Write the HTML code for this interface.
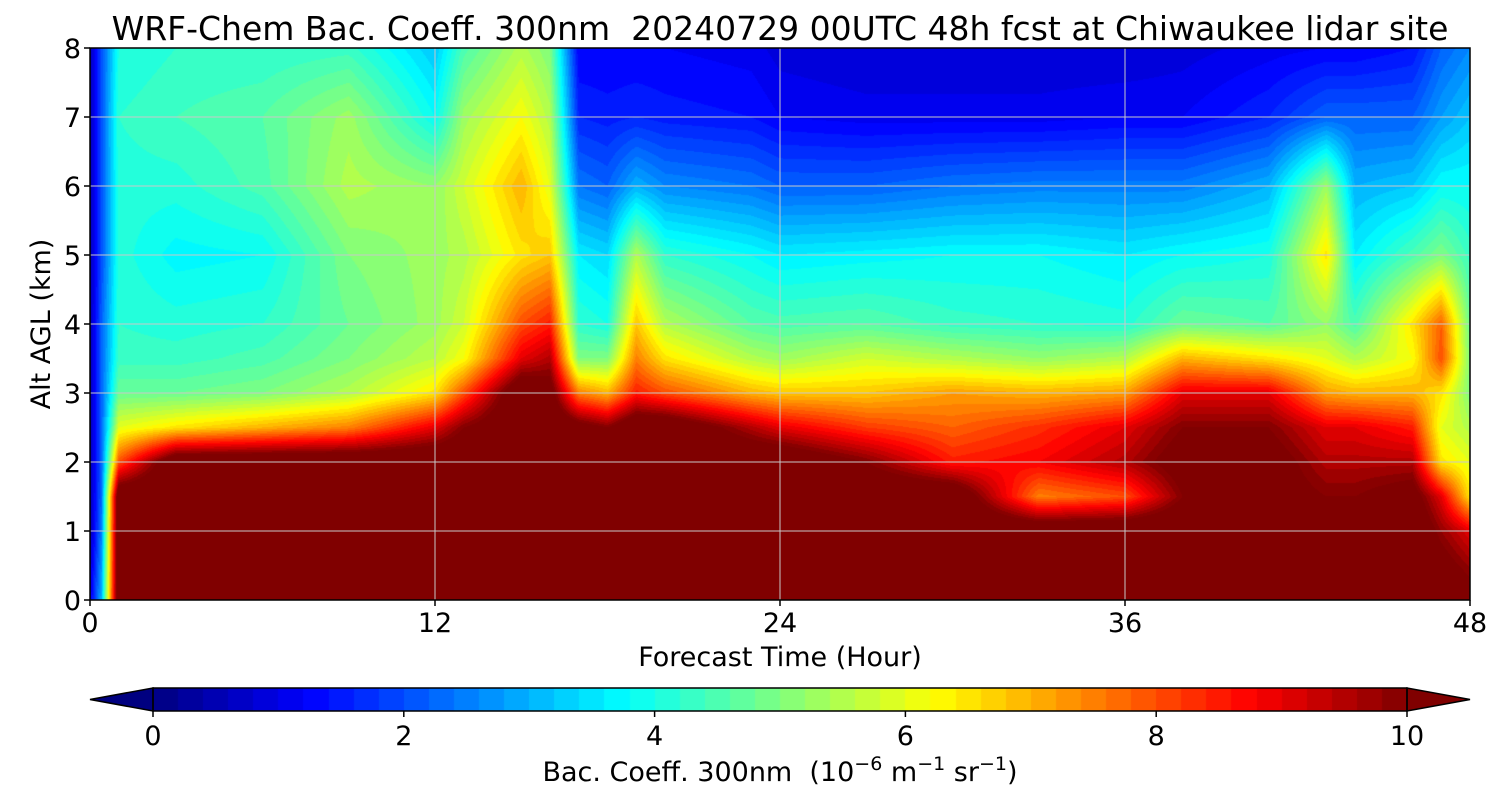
<!DOCTYPE html>
<html><head><meta charset="utf-8">
<style>
body{margin:0;background:#fff;width:1500px;height:800px;overflow:hidden;font-family:"DejaVu Sans","Liberation Sans",sans-serif;}
#wrap{position:relative;width:1500px;height:800px;}
canvas{position:absolute;}
svg{position:absolute;left:0;top:0;}
text{font-family:"DejaVu Sans","Liberation Sans",sans-serif;}
</style></head><body>
<div id="wrap">
<canvas id="plot" width="1380" height="552" style="left:90px;top:48px"></canvas>
<canvas id="cbar" width="1254" height="23" style="left:153px;top:688px"></canvas>
<svg id="ov" width="1500" height="800"></svg>
</div>
<script>
// ---- data ----
const times = [0,0.4,1,3,6,9,12,13,15,16,17,18,19,20,23,24,27,30,33,36,38,41,43,44,46,47,48];
const alts = [0,1,1.5,2,2.5,3,3.5,4,5,6,7,8];
const values = [
[1,0.5,0.5,0.5,0.5,0.5,0.5,0.5,0.5,0.5,0.5,0.5],
[3,2.5,2.3,2.2,2.2,2.2,2.2,2.2,2,2,2,2],
[11,11,11,8,6,4.8,4.3,4.2,4.1,4.1,4.2,4],
[11,11,11,11,6.5,4.8,4.3,4.1,3.7,4.1,4.4,4.2],
[11,11,11,11,7,5,4.5,4.2,3.8,4.5,4.6,4.2],
[11,11,11,11,7.5,5.5,5,4.8,5,5.5,5.3,4.3],
[11,11,11,11,9,6.5,5.6,5.3,5.3,5.2,3.8,3.2],
[11,11,11,11,10,8,6.2,5.8,5.5,5.8,5.3,4.5],
[11,11,11,11,11,11,9,8,6.5,7,6.2,5.5],
[11,11,11,11,11,10.5,9.5,8.5,6.8,6,5.5,5],
[11,11,11,11,10.5,7.5,5,4.2,3.6,2.4,1.6,1.2],
[11,11,11,11,10,7,5,4,3.4,2.2,1.5,1.2],
[11,11,11,11,11,8.5,7.5,6.8,5.5,3,1.6,1.2],
[11,11,11,11,11,8,6.5,5.5,4.2,2.6,1.5,1.2],
[11,11,11,11,9.5,7,5.5,4.6,3.8,2.4,1.4,1.1],
[11,11,11,11,9,6.8,5.3,4.5,3.6,2.2,1.2,0.9],
[11,11,11,10,8.2,6.8,5.8,4.6,3.7,2.2,1.1,0.8],
[11,11,11,8.5,7.8,7.2,5.5,4.3,3.8,2.4,1.1,0.8],
[11,11,7.5,8.8,8.3,7,5.2,4.2,3.8,2.5,1.1,0.8],
[11,11,8,9.5,9,7.2,5.5,4.1,3.6,2.5,1.2,0.8],
[11,11,10,10.5,10,9,7,4.8,3.8,2.5,1.2,0.9],
[11,11,10.5,10.5,10,9,6.5,4.6,4,3,1.6,1.1],
[11,11,10,9.5,9,7.2,6,5.2,6.5,5.3,2.2,1.2],
[11,11,10,9.5,9,7,5.5,4.5,3.6,3,2.2,1.2],
[11,11,10.5,9.5,8.5,7,6.2,6.5,4.5,3.2,2.2,1.4],
[11,9.8,9,6.5,6,6.5,8,7.8,5,3.8,2.8,2.2],
[10.5,9,6.5,6,5.5,5,5,4.8,4.3,3.8,3.2,2.6]
];
const xTicks = [0,12,24,36,48];
const yTicks = [0,1,2,3,4,5,6,7,8];
const cTicks = [0,2,4,6,8,10];
// ---- scales ----
const X0=90,X1=1470,Y0=600,Y1=48;
const xs=t=>X0+(t-0)/(48)*(X1-X0);
const ys=a=>Y0-(a/8)*(Y0-Y1);
const CX0=153,CX1=1407;
const cs=v=>CX0+v/10*(CX1-CX0);
function jet(v){
  if(v>=10) return [128,0,0];
  if(v<0) return [0,0,128];
  v=Math.floor(v/0.2)*0.2+0.1;
  const x=v/10, c=z=>Math.max(0,Math.min(1,z));
  const r=c(1.5-Math.abs(4*x-3)), g=c(1.5-Math.abs(4*x-2)), b=c(1.5-Math.abs(4*x-1));
  return [r*255|0,g*255|0,b*255|0];
}
function idx(arr,v){for(let i=0;i<arr.length-1;i++){if(v<=arr[i+1])return i;}return arr.length-2;}
function sample(t,a){
  const i=idx(times,t), j=idx(alts,a);
  const ft=Math.max(0,Math.min(1,(t-times[i])/(times[i+1]-times[i])));
  const fa=Math.max(0,Math.min(1,(a-alts[j])/(alts[j+1]-alts[j])));
  const v00=values[i][j],v10=values[i+1][j],v01=values[i][j+1],v11=values[i+1][j+1];
  return (v00*(1-ft)+v10*ft)*(1-fa)+(v01*(1-ft)+v11*ft)*fa;
}
const pc=document.getElementById('plot').getContext('2d');
const W=1380,H=552,img=pc.createImageData(W,H);
for(let py=0;py<H;py++){const a=8*(1-(py+0.5)/H);
  for(let px=0;px<W;px++){const t=48*(px+0.5)/W;const col=jet(sample(t,a));const k=(py*W+px)*4;
    img.data[k]=col[0];img.data[k+1]=col[1];img.data[k+2]=col[2];img.data[k+3]=255;}}
pc.putImageData(img,0,0);
const cc=document.getElementById('cbar').getContext('2d');
for(let px=0;px<1254;px++){const col=jet(10*(px+0.5)/1254);cc.fillStyle=`rgb(${col})`;cc.fillRect(px,0,1,23);}
const svg=document.getElementById('ov');const NS='http://www.w3.org/2000/svg';
function el(tag,attrs,txt){const e=document.createElementNS(NS,tag);for(const k in attrs)e.setAttribute(k,attrs[k]);if(txt!==undefined)e.textContent=txt;svg.appendChild(e);return e;}
xTicks.forEach(t=>{
  if(t>0&&t<48){const g=el('line',{x1:xs(t),x2:xs(t),y1:Y1,y2:Y0,stroke:'#c8c8c8','stroke-width':1});
  
  }
  const tk=el('line',{x1:xs(t),x2:xs(t),y1:Y0,y2:Y0+6,stroke:'#000','stroke-width':1.5});
  
  
  const lb=el('text',{x:xs(t),y:Y0+32,'font-size':27,'text-anchor':'middle'},String(t));
  
  
});
yTicks.forEach(a=>{
  if(a>0&&a<8){const g=el('line',{x1:X0,x2:X1,y1:ys(a),y2:ys(a),stroke:'#c8c8c8','stroke-width':1});
  
  }
  const tk=el('line',{x1:X0-6,x2:X0,y1:ys(a),y2:ys(a),stroke:'#000','stroke-width':1.5});
  
  
  const lb=el('text',{x:X0-9,y:ys(a)+10,'font-size':27,'text-anchor':'end'},String(a));
  
  
});
const fr=el('rect',{x:X0,y:Y1,width:X1-X0,height:Y0-Y1,fill:'none',stroke:'#000','stroke-width':1.5});


const lt=el('polygon',{points:`${CX0},688 ${CX0},711 90,699.5`,fill:'rgb(0,0,128)',stroke:'#000','stroke-width':1.5});


const rt=el('polygon',{points:`${CX1},688 ${CX1},711 1470,699.5`,fill:'rgb(128,0,0)',stroke:'#000','stroke-width':1.5});


const cf=el('rect',{x:CX0,y:688,width:CX1-CX0,height:23,fill:'none',stroke:'#000','stroke-width':1.5});


cTicks.forEach(v=>{
  const tk=el('line',{x1:cs(v),x2:cs(v),y1:711,y2:717,stroke:'#000','stroke-width':1.5});
  
  
  const lb=el('text',{x:cs(v),y:745,'font-size':27,'text-anchor':'middle'},String(v));
  
  
});
</script>
<svg width="1500" height="800" style="position:absolute;left:0;top:0;pointer-events:none">
<text x="780" y="40" font-size="33" text-anchor="middle" xml:space="preserve">WRF-Chem Bac. Coeff. 300nm  20240729 00UTC 48h fcst at Chiwaukee lidar site</text>
<text x="780" y="666" font-size="27" text-anchor="middle">Forecast Time (Hour)</text>
<text transform="translate(50,324) rotate(-90)" font-size="27" text-anchor="middle">Alt AGL (km)</text>
<text x="780" y="781" font-size="27" text-anchor="middle" xml:space="preserve">Bac. Coeff. 300nm  (10<tspan dy="-11" font-size="19">−6</tspan><tspan dy="11"> m</tspan><tspan dy="-11" font-size="19">−1</tspan><tspan dy="11"> sr</tspan><tspan dy="-11" font-size="19">−1</tspan><tspan dy="11">)</tspan></text>
</svg>
</body></html>
